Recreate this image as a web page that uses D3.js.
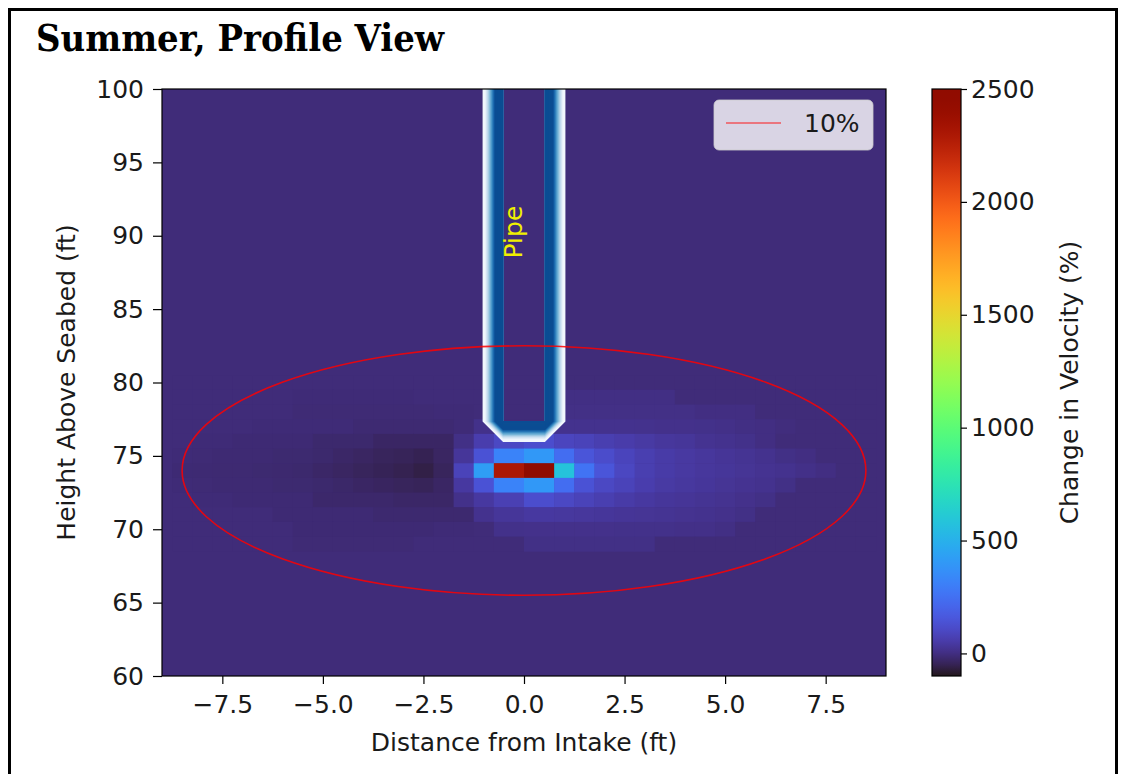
<!DOCTYPE html>
<html>
<head>
<meta charset="utf-8">
<script src="https://cdn.jsdelivr.net/npm/d3@7/dist/d3.min.js"></script>
<style>
  body { margin: 0; background: #fff; }
  svg text { font-family: "DejaVu Sans", sans-serif; fill: #1a1a1a; }
</style>
</head>
<body>
<svg id="chart" width="1126" height="774"></svg>
<script>
// ---- data ----
const xTicks = [-7.5, -5, -2.5, 0, 2.5, 5, 7.5];
const yTicks = [60, 65, 70, 75, 80, 85, 90, 95, 100];
const cbTicks = [0, 500, 1000, 1500, 2000, 2500];

// column edges of the velocity grid (ft from intake)
const xEdges = [-8.75, -8.25, -7.75, -7.25, -6.75, -6.25, -5.75, -5.25, -4.75, -4.25,
  -3.75, -3.25, -2.75, -2.25, -1.75, -1.25, -0.75, 0, 0.75, 1.25, 1.75, 2.25, 2.75,
  3.25, 3.75, 4.25, 4.75, 5.25, 5.75, 6.25, 6.75, 7.25, 7.75, 8.25, 8.75];
// row centres (ft above seabed), one row per foot
const rowHeights = [80, 79, 78, 77, 76, 75, 74, 73, 72, 71, 70, 69];
const baseValue = -10; // change in velocity away from the intake

// change in velocity (%), one list per row, left to right
const velocityRows = [
  [-10,-10,-10,-10,-10,-10,-10,-10,-10,-10,-10,-10,-10,-10,-10,-10,-10,-10,-10,-10,-10,-10,-10,-10,-10,-10,-10,-10,-10,-10,-10,-10,-10,-10],
  [-10,-10,-10,-10,-10,-10,-13,-13,-13,-13,-13,-13,-10,-10,-10,-10,-10,-10,3,3,3,3,3,3,-10,-10,-10,-10,-10,-10,-10,-10,-10,-10],
  [-10,-10,-10,-10,-10,-10,-15,-15,-15,-15,-15,-15,-15,-13,-13,-10,-10,-10,6,6,6,6,6,6,6,0,0,0,-10,-10,-10,-10,-10,-10],
  [-10,-10,-10,-10,-13,-13,-13,-13,-13,-18,-18,-18,-18,-18,-13,10,-10,-10,16,16,16,15,14,12,12,10,8,3,0,-5,-10,-10,-10,-10],
  [-10,-12,-12,-16,-16,-16,-16,-24,-24,-24,-33,-33,-33,-33,5,60,100,120,90,80,65,55,45,35,30,20,15,10,0,-10,-10,-10,-10,-10],
  [-13,-15,-17,-17,-17,-20,-20,-24,-30,-35,-41,-45,-50,-35,30,140,320,400,240,150,115,85,65,50,42,35,28,22,15,5,0,-10,-10,-10],
  [-16,-17,-18,-18,-20,-21,-24,-30,-35,-41,-47,-52,-62,-41,80,420,2300,2500,580,260,150,95,65,50,42,35,30,25,20,15,8,0,-10,-10],
  [-13,-15,-17,-17,-17,-20,-20,-24,-28,-33,-37,-41,-45,-33,40,140,320,400,240,140,100,80,60,45,38,32,25,20,15,5,-10,-10,-10,-10],
  [-10,-13,-13,-16,-16,-16,-16,-26,-26,-26,-26,-30,-30,-30,10,40,70,120,100,80,65,50,40,32,28,22,18,12,5,-10,-10,-10,-10,-10],
  [-10,-10,-10,-10,-10,-16,-16,-16,-16,-16,-21,-21,-21,-21,-21,15,30,40,38,35,32,28,25,22,18,15,12,5,-10,-10,-10,-10,-10,-10],
  [-10,-10,-10,-10,-10,-10,-16,-16,-16,-16,-16,-16,-16,-13,-13,-10,10,12,12,12,12,10,10,10,8,8,3,-10,-10,-10,-10,-10,-10,-10],
  [-10,-10,-10,-10,-10,-10,-15,-15,-15,-15,-15,-15,-10,-10,-10,-10,-10,5,5,5,5,5,5,-10,-10,-10,-10,-10,-10,-10,-10,-10,-10,-10]
];

// 10% contour: centre and radius (ft)
const contourCenter = [0, 74];
const contourRadius = 8.5;

// pipe: inner wall outline (ft)
const pipeInner = [[-0.52, 103], [-0.52, 77.35], [0.52, 77.35], [0.52, 103]];
const pipeLabelPos = [-0.05, 90.25];

// ---- layout ----
const svg = d3.select("#chart");
const plot = {left: 162, right: 886, top: 89, bottom: 676};
const cb = {left: 932, width: 29};

const x = d3.scaleLinear().domain([-9, 9]).range([plot.left, plot.right]);
const y = d3.scaleLinear().domain([60, 100]).range([plot.bottom, plot.top]);
const color = d3.scaleSequential(d3.interpolateTurbo).domain([-100, 2500]);

const defs = svg.append("defs");
defs.append("clipPath").attr("id", "plot-clip")
  .append("rect")
  .attr("x", plot.left).attr("y", plot.top)
  .attr("width", plot.right - plot.left).attr("height", plot.bottom - plot.top);

// outer frame
svg.append("rect")
  .attr("x", 9.5).attr("y", 9.5).attr("width", 1107).attr("height", 820)
  .attr("fill", "none").attr("stroke", "#000").attr("stroke-width", 3);

// title
svg.append("text")
  .attr("x", 36).attr("y", 51)
  .attr("textLength", 408).attr("lengthAdjust", "spacingAndGlyphs")
  .style("font-family", "'DejaVu Serif', serif")
  .style("font-stretch", "condensed")
  .style("font-weight", "bold")
  .style("font-size", "38px")
  .style("fill", "#000")
  .text("Summer, Profile View");

const g = svg.append("g").attr("clip-path", "url(#plot-clip)");

// background field
g.append("rect")
  .attr("x", plot.left).attr("y", plot.top)
  .attr("width", plot.right - plot.left).attr("height", plot.bottom - plot.top)
  .attr("fill", color(baseValue));

// grid cells
const cells = [];
velocityRows.forEach(function (row, r) {
  row.forEach(function (v, c) {
    cells.push({x0: xEdges[c], x1: xEdges[c + 1], yc: rowHeights[r], v: v});
  });
});

g.selectAll("rect.cell")
  .data(cells)
  .enter().append("rect")
  .attr("class", "cell")
  .attr("x", function (d) { return x(d.x0); })
  .attr("width", function (d) { return x(d.x1) - x(d.x0) + 0.4; })
  .attr("y", function (d) { return y(d.yc + 0.5); })
  .attr("height", function (d) { return y(d.yc - 0.5) - y(d.yc + 0.5) + 0.4; })
  .attr("fill", function (d) { return color(d.v); });

// pipe walls: stacked strokes, white outside to blue inside
defs.append("clipPath").attr("id", "pipe-clip")
  .append("path")
  .attr("clip-rule", "evenodd")
  .attr("d", "M0,0H1126V774H0Z M" + x(pipeInner[0][0]) + "," + y(pipeInner[0][1]) +
    "V" + y(pipeInner[1][1]) + "H" + x(pipeInner[2][0]) + "V" + y(pipeInner[3][1]) + "Z");

const pipeG = g.append("g").attr("clip-path", "url(#pipe-clip)");
const pipeLine = d3.line()
  .x(function (d) { return x(d[0]); })
  .y(function (d) { return y(d[1]); });
const wall = 20.5, steps = 24;
d3.range(steps).forEach(function (i) {
  const f = i / (steps - 1);
  const s = Math.max(0, Math.min(1, (f - 0.1) / 0.5));
  pipeG.append("path")
    .attr("d", pipeLine(pipeInner))
    .attr("fill", "none")
    .attr("stroke-linejoin", "bevel")
    .attr("stroke-width", 2 * wall * (1 - i / steps))
    .attr("stroke", d3.interpolateBlues(0.03 + 0.86 * s));
});

g.append("text")
  .attr("transform", "translate(" + x(pipeLabelPos[0]) + "," + y(pipeLabelPos[1]) + ") rotate(-90)")
  .attr("text-anchor", "middle")
  .style("font-size", "25px")
  .style("fill", "#f0f000")
  .text("Pipe");

// 10% contour
g.append("ellipse")
  .attr("cx", x(contourCenter[0])).attr("cy", y(contourCenter[1]))
  .attr("rx", x(contourCenter[0] + contourRadius) - x(contourCenter[0]))
  .attr("ry", y(contourCenter[1]) - y(contourCenter[1] + contourRadius))
  .attr("fill", "none").attr("stroke", "red")
  .attr("stroke-opacity", 0.85).attr("stroke-width", 1.6);

// legend
const lg = svg.append("g");
lg.append("rect")
  .attr("x", 714).attr("y", 100).attr("width", 159).attr("height", 50).attr("rx", 5)
  .attr("fill", "#fff").attr("fill-opacity", 0.8)
  .attr("stroke", "#ccc").attr("stroke-opacity", 0.8);
lg.append("line")
  .attr("x1", 726).attr("x2", 781).attr("y1", 123).attr("y2", 123)
  .attr("stroke", "red").attr("stroke-opacity", 0.6).attr("stroke-width", 1.6);
lg.append("text").attr("x", 804).attr("y", 132).style("font-size", "25px").text("10%");

// spines
svg.append("rect")
  .attr("x", plot.left).attr("y", plot.top)
  .attr("width", plot.right - plot.left).attr("height", plot.bottom - plot.top)
  .attr("fill", "none").attr("stroke", "#000").attr("stroke-width", 1.2);

// axes
const xAxis = svg.append("g")
  .attr("transform", "translate(0," + plot.bottom + ")")
  .call(d3.axisBottom(x).tickValues(xTicks).tickSize(8).tickPadding(11).tickSizeOuter(0)
    .tickFormat(function (d) { return d3.format(".1f")(d).replace("-", "\u2212"); }));
const yAxis = svg.append("g")
  .attr("transform", "translate(" + plot.left + ",0)")
  .call(d3.axisLeft(y).tickValues(yTicks).tickSize(9).tickPadding(9).tickSizeOuter(0));
[xAxis, yAxis].forEach(function (a) {
  a.select(".domain").remove();
  a.selectAll("text").style("font-size", "25px").style("font-family", "'DejaVu Sans', sans-serif").attr("fill", "#1a1a1a");
  a.selectAll("line").attr("stroke", "#000").attr("stroke-width", 1.2);
});

svg.append("text")
  .attr("x", x(0)).attr("y", 751)
  .attr("text-anchor", "middle").style("font-size", "25px")
  .text("Distance from Intake (ft)");
svg.append("text")
  .attr("transform", "translate(75," + (plot.top + plot.bottom) / 2 + ") rotate(-90)")
  .attr("text-anchor", "middle").style("font-size", "25px")
  .text("Height Above Seabed (ft)");

// colour bar
const cy = d3.scaleLinear().domain([-100, 2500]).range([plot.bottom, plot.top]);
const grad = defs.append("linearGradient").attr("id", "cb-grad")
  .attr("x1", 0).attr("x2", 0).attr("y1", 1).attr("y2", 0);
d3.range(0, 1.0001, 0.02).forEach(function (t) {
  grad.append("stop").attr("offset", t).attr("stop-color", d3.interpolateTurbo(t));
});
svg.append("rect")
  .attr("x", cb.left).attr("y", plot.top).attr("width", cb.width).attr("height", plot.bottom - plot.top)
  .attr("fill", "url(#cb-grad)").attr("stroke", "#000").attr("stroke-width", 1.2);
const cAxis = svg.append("g")
  .attr("transform", "translate(" + (cb.left + cb.width) + ",0)")
  .call(d3.axisRight(cy).tickValues(cbTicks).tickSize(6).tickPadding(4).tickSizeOuter(0)
    .tickFormat(d3.format("d")));
cAxis.select(".domain").remove();
cAxis.selectAll("text").style("font-size", "25px").style("font-family", "'DejaVu Sans', sans-serif").attr("fill", "#1a1a1a");
cAxis.selectAll("line").attr("stroke", "#000").attr("stroke-width", 1.2);
svg.append("text")
  .attr("transform", "translate(1078," + (plot.top + plot.bottom) / 2 + ") rotate(-90)")
  .attr("text-anchor", "middle").style("font-size", "25px")
  .text("Change in Velocity (%)");
</script>
</body>
</html>
